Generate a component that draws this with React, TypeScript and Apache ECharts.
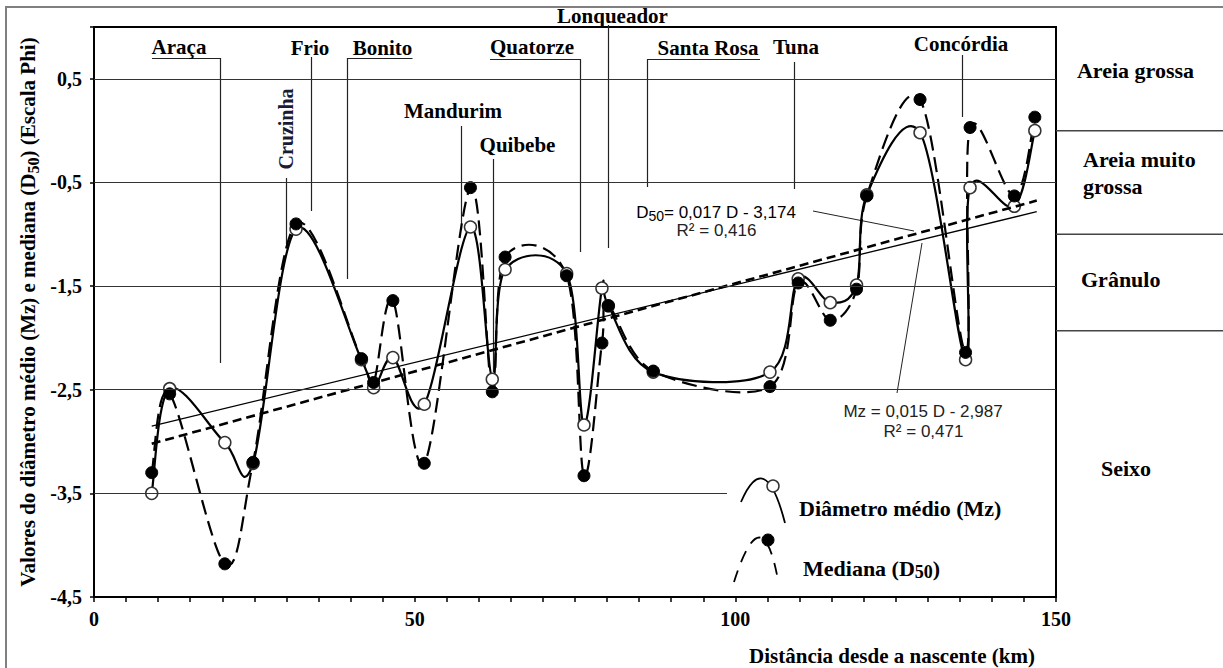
import React, { useEffect, useRef } from 'react';
import * as echarts from 'echarts';

// ---------- data ----------
const distanceKm = [9.0, 11.8, 20.4, 24.8, 31.5, 41.7, 43.6, 46.6, 51.5, 58.7, 62.1, 64.1, 73.7, 76.4, 79.2, 80.2, 87.2, 105.4, 109.8, 114.8, 118.9, 120.5, 128.8, 135.9, 136.6, 143.5, 146.7];
const meanDiameterMz = [-3.5, -2.49, -3.01, -3.21, -0.95, -2.21, -2.48, -2.19, -2.64, -0.93, -2.4, -1.34, -1.38, -2.84, -1.52, -1.69, -2.33, -2.33, -1.43, -1.66, -1.49, -0.62, -0.02, -2.21, -0.55, -0.73, 0.0];
const medianD50 = [-3.3, -2.54, -4.18, -3.2, -0.9, -2.2, -2.43, -1.64, -3.21, -0.55, -2.52, -1.22, -1.4, -3.33, -2.05, -1.69, -2.32, -2.47, -1.47, -1.83, -1.53, -0.63, 0.3, -2.14, 0.03, -0.63, 0.13];

const xTickLabels = [0, 50, 100, 150];
const yTickLabels = [-4.5, -3.5, -2.5, -1.5, -0.5, 0.5];
const fullGridLines = [0.5, -0.5, -1.5, -2.5];
const shortGridLine = -3.5;
const shortGridLineEndKm = 98.7;

const trendMz = { slope: 0.015, intercept: -2.987, r2: '0,471' };
const trendD50 = { slope: 0.017, intercept: -3.174, r2: '0,416' };
const trendRangeKm = [9, 147];

const classBoundaries = [0, -1, -1.93];
const classNames = ['Areia grossa', 'Areia muito\ngrossa', 'Grânulo', 'Seixo'];

const tributaryNames = ['Araça', 'Frio', 'Bonito', 'Mandurim', 'Quibebe', 'Quatorze', 'Lonqueador', 'Santa Rosa', 'Tuna', 'Concórdia'];

// ---------- layout / styles ----------
const SERIF = '"Liberation Serif", "Times New Roman", Times, serif';
const SANS = '"Liberation Sans", Arial, Helvetica, sans-serif';
const W = 1223;
const H = 668;

const tributaryLayout = [
  { cx: 179, cy: 47, leader: [[152, 58.5], [220.5, 58.5], [220.5, 363]] },
  { cx: 310, cy: 48, leader: [[311.5, 57], [311.5, 211]] },
  { cx: 382.5, cy: 48, leader: [[412.5, 58.5], [347.5, 58.5], [347.5, 279]] },
  { cx: 453, cy: 111, leader: [[461.5, 126], [461.5, 230]] },
  { cx: 517.5, cy: 145, leader: [[493.5, 159], [493.5, 372]] },
  { cx: 532, cy: 47, leader: [[490, 59.5], [580.5, 59.5], [580.5, 252]] },
  { cx: 612.5, cy: 15.5, leader: [[608.5, 25], [608.5, 248]] },
  { cx: 708, cy: 48, leader: [[760, 59.5], [647.5, 59.5], [647.5, 187]] },
  { cx: 796, cy: 47, leader: [[794.5, 62], [794.5, 189]] },
  { cx: 961, cy: 43.5, leader: [[962.5, 55], [962.5, 117]] },
];

const classLabelLayout = [
  { x: 1135.5, y: 70, align: 'center' },
  { x: 1083, y: 172.5, align: 'left' },
  { x: 1081, y: 279, align: 'left' },
  { x: 1101, y: 468, align: 'left' },
];

const fmt = (v: number, d: number) => v.toFixed(d).replace('.', ',');

const serifBold = (size: number) => ({
  fontFamily: SERIF,
  fontWeight: 'bold',
  fontSize: size,
});

function textEl(text: string, x: number, y: number, extra: any = {}, align = 'center') {
  return {
    type: 'text',
    x,
    y,
    silent: true,
    style: {
      text,
      fill: '#000',
      textAlign: align,
      align,
      textVerticalAlign: 'middle',
      verticalAlign: 'middle',
      ...extra,
    },
  };
}

function polyline(points: number[][], stroke = '#222', lineWidth = 1.2, lineDash?: number[]) {
  return {
    type: 'polyline',
    silent: true,
    shape: { points },
    style: { stroke, lineWidth, fill: null, lineDash },
  };
}

// Smoothed (Excel-like Catmull-Rom Bezier) curve through the data, drawn with the axis scales
function smoothCurveSeries(name: string, values: number[], lineWidth: number, lineDash: number[] | null) {
  return {
    name,
    type: 'custom',
    silent: true,
    clip: false,
    data: distanceKm.map((d, i) => [d, values[i]]),
    encode: { x: 0, y: 1 },
    renderItem: (params: any, api: any) => {
      if (params.dataIndex !== 0) return null;
      const pts = distanceKm.map((d, i) => api.coord([d, values[i]]));
      let path = `M${pts[0][0]} ${pts[0][1]}`;
      for (let i = 0; i < pts.length - 1; i++) {
        const p0 = pts[Math.max(i - 1, 0)];
        const p1 = pts[i];
        const p2 = pts[i + 1];
        const p3 = pts[Math.min(i + 2, pts.length - 1)];
        const c1x = p1[0] + (p2[0] - p0[0]) / 6;
        const c1y = p1[1] + (p2[1] - p0[1]) / 6;
        const c2x = p2[0] - (p3[0] - p1[0]) / 6;
        const c2y = p2[1] - (p3[1] - p1[1]) / 6;
        path += ` C${c1x} ${c1y} ${c2x} ${c2y} ${p2[0]} ${p2[1]}`;
      }
      return {
        type: 'path',
        shape: { pathData: path },
        style: { fill: 'none', stroke: '#000', lineWidth, lineDash: lineDash || undefined, lineCap: 'butt' },
      };
    },
  };
}

export default function App() {
  const ref = useRef<HTMLDivElement>(null);

  useEffect(() => {
    if (!ref.current) return;
    const chart = echarts.init(ref.current, null, { renderer: 'svg' });

    const mzData = distanceKm.map((d, i) => [d, meanDiameterMz[i]]);
    const d50Data = distanceKm.map((d, i) => [d, medianD50[i]]);
    const trendLine = (t: { slope: number; intercept: number }) =>
      trendRangeKm.map((x) => [x, t.slope * x + t.intercept]);

    const gridMarkLines: any[] = fullGridLines.map((v) => ({ yAxis: v }));
    gridMarkLines.push([{ coord: [0, shortGridLine] }, { coord: [shortGridLineEndKm, shortGridLine] }]);

    const option: any = {
      animation: false,
      backgroundColor: '#fff',
      grid: {
        left: 94,
        top: 27,
        width: 962,
        height: 570,
        show: true,
        borderColor: '#000',
        borderWidth: 2,
        backgroundColor: 'transparent',
      },
      xAxis: {
        type: 'value',
        min: 0,
        max: 150,
        interval: 5,
        axisLine: { show: true, onZero: false, lineStyle: { color: '#000', width: 2 } },
        axisTick: { show: true, inside: false, length: 5, lineStyle: { color: '#000', width: 1.5 } },
        splitLine: { show: false },
        axisLabel: {
          margin: 12,
          color: '#000',
          ...serifBold(20),
          formatter: (v: number) => (xTickLabels.includes(v) ? String(v) : ''),
        },
      },
      yAxis: {
        type: 'value',
        min: -4.5,
        max: 1,
        interval: 1,
        axisLine: { show: true, onZero: false, lineStyle: { color: '#000', width: 2 } },
        axisTick: { show: true, inside: false, length: 4, lineStyle: { color: '#000', width: 1.5 } },
        splitLine: { show: false },
        axisLabel: {
          margin: 12,
          color: '#000',
          ...serifBold(20),
          formatter: (v: number) => (yTickLabels.some((t) => Math.abs(t - v) < 1e-6) ? fmt(v, 1) : ''),
        },
      },
      series: [
        {
          name: 'Tendência Mz',
          type: 'line',
          data: trendLine(trendMz),
          symbol: 'none',
          silent: true,
          lineStyle: { color: '#000', width: 1.3 },
          markLine: {
            silent: true,
            symbol: 'none',
            label: { show: false },
            lineStyle: { color: '#333', width: 1.2, type: 'solid' },
            data: gridMarkLines,
          },
        },
        {
          name: 'Tendência D50',
          type: 'line',
          data: trendLine(trendD50),
          symbol: 'none',
          silent: true,
          lineStyle: { color: '#000', width: 2.6, type: [9, 5] },
        },
        smoothCurveSeries('Curva Mz', meanDiameterMz, 2.2, null),
        {
          name: 'Diâmetro médio (Mz)',
          type: 'scatter',
          data: mzData,
          symbol: 'circle',
          symbolSize: 12,
          itemStyle: { color: '#fff', borderColor: '#333', borderWidth: 1.5, opacity: 1 },
        },
        smoothCurveSeries('Curva D50', medianD50, 2.2, [15, 7]),
        {
          name: 'Mediana (D50)',
          type: 'scatter',
          data: d50Data,
          symbol: 'circle',
          symbolSize: 12,
          itemStyle: { color: '#000', borderColor: '#000', borderWidth: 1, opacity: 1 },
        },
      ],
    };

    chart.setOption(option);

    const toPx = (x: number, y: number) => chart.convertToPixel({ gridIndex: 0 }, [x, y]) as number[];
    const rightEdge = toPx(150, 0)[0];

    const graphics: any[] = [];
    // outer frame of the figure
    graphics.push(polyline([[6, H + 5], [6, 7], [W + 5, 7]], '#808080', 2));

    // class boundaries on the right side
    classBoundaries.forEach((v) => {
      const py = toPx(150, v)[1];
      graphics.push({
        type: 'line',
        silent: true,
        shape: { x1: rightEdge, y1: py, x2: W, y2: py },
        style: { stroke: '#444', lineWidth: 1.5 },
      });
    });
    classNames.forEach((name, i) => {
      const l = classLabelLayout[i];
      graphics.push(textEl(name, l.x, l.y, { ...serifBold(22), lineHeight: 27 }, l.align));
    });

    // tributary labels with leader lines
    tributaryNames.forEach((name, i) => {
      const l = tributaryLayout[i];
      graphics.push(polyline(l.leader, '#222', 1.2));
      graphics.push(textEl(name, l.cx, l.cy, serifBold(21)));
    });
    // Cruzinha (vertical)
    graphics.push(polyline([[286.5, 178], [286.5, 244]], '#222', 1.2));
    graphics.push({
      ...textEl('Cruzinha', 286, 129, { ...serifBold(20), fill: '#1b1b33' }),
      rotation: Math.PI / 2,
    });

    // regression equations
    const eqRich = {
      n: { fontFamily: SANS, fontSize: 17, color: '#222', lineHeight: 22, verticalAlign: 'middle' },
      s: { fontFamily: SANS, fontSize: 14, color: '#222', lineHeight: 12, verticalAlign: 'bottom' },
    };
    graphics.push(textEl('{n|D}{s|50}{n|= ' + fmt(trendD50.slope, 3) + ' D - ' + fmt(-trendD50.intercept, 3) + '}', 716, 212, { rich: eqRich }));
    graphics.push(textEl('R² = ' + trendD50.r2, 716.5, 230, { fontFamily: SANS, fontSize: 17, fill: '#222' }));
    graphics.push(polyline([[813, 211], [914, 231]], '#222', 1));
    graphics.push(textEl('Mz = ' + fmt(trendMz.slope, 3) + ' D - ' + fmt(-trendMz.intercept, 3), 923, 411, { fontFamily: SANS, fontSize: 17, fill: '#222' }));
    graphics.push(textEl('R² = ' + trendMz.r2, 923.5, 431, { fontFamily: SANS, fontSize: 17, fill: '#222' }));
    graphics.push(polyline([[897, 393], [922, 243]], '#222', 1));

    // legend
    graphics.push({
      type: 'bezierCurve',
      silent: true,
      shape: { x1: 741, y1: 502, cpx1: 765, cpy1: 446, x2: 785, y2: 523 },
      style: { stroke: '#000', lineWidth: 1.8, fill: null },
    });
    graphics.push({
      type: 'circle',
      silent: true,
      shape: { cx: 773, cy: 486, r: 6 },
      style: { fill: '#fff', stroke: '#333', lineWidth: 1.5 },
    });
    graphics.push(textEl('Diâmetro médio (Mz)', 799, 508, serifBold(22), 'left'));
    graphics.push({
      type: 'bezierCurve',
      silent: true,
      shape: { x1: 734, y1: 582, cpx1: 762, cpy1: 494, x2: 778, y2: 580 },
      style: { stroke: '#000', lineWidth: 1.8, fill: null, lineDash: [12, 9] },
    });
    graphics.push({
      type: 'circle',
      silent: true,
      shape: { cx: 768, cy: 540, r: 6 },
      style: { fill: '#000', stroke: '#000', lineWidth: 1 },
    });
    const legRich = {
      b: { ...serifBold(22), color: '#000', lineHeight: 26, verticalAlign: 'middle' },
      s: { ...serifBold(18), color: '#000', lineHeight: 18, verticalAlign: 'bottom' },
    };
    graphics.push(textEl('{b|Mediana (D}{s|50}{b|)}', 803, 568, { rich: legRich }, 'left'));

    // axis titles
    graphics.push(textEl('Distância desde a nascente (km)', 892, 656, serifBold(21)));
    const yRich = {
      b: { ...serifBold(21), color: '#000', lineHeight: 26, verticalAlign: 'middle' },
      s: { ...serifBold(16), color: '#000', lineHeight: 15, verticalAlign: 'bottom' },
    };
    graphics.push({
      ...textEl('{b|Valores do diâmetro médio (Mz) e mediana (D}{s|50}{b|) (Escala Phi)}', 28, 312, { rich: yRich }),
      rotation: Math.PI / 2,
    });

    chart.setOption({ graphic: { elements: graphics } });

    return () => chart.dispose();
  }, []);

  return (
    <div
      ref={ref}
      style={{ position: 'fixed', left: 0, top: 0, width: W, height: H, background: '#fff' }}
    />
  );
}
